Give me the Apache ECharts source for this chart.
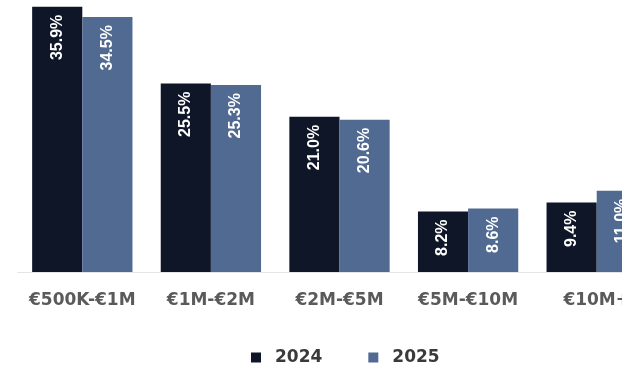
<!DOCTYPE html>
<html>
<head>
<meta charset="utf-8">
<script src="https://cdn.jsdelivr.net/npm/echarts@6/dist/echarts.min.js"></script>
<style>
    html, body { margin: 0; padding: 0; background: #fff; overflow: hidden; }
    #chart { width: 690px; height: 368px; }
</style>
</head>
<body>
<div id="chart"></div>
<script>
// dados
var categorias = ['€500K-€1M', '€1M-€2M', '€2M-€5M', '€5M-€10M', '€10M+'];
var valores2024 = [35.9, 25.5, 21.0, 8.2, 9.4];
var valores2025 = [34.5, 25.3, 20.6, 8.6, 11.0];
var anos = ['2024', '2025'];

var dom = document.getElementById('chart');
var myChart = echarts.init(dom, null, { renderer: 'canvas' });

// rótulo branco, vertical, dentro da barra
var rotulo = {
    show: true,
    position: 'insideTop',
    rotate: 90,
    align: 'right',
    verticalAlign: 'middle',
    distance: 8,
    color: '#ffffff',
    fontFamily: 'Liberation Sans',
    fontWeight: 'bold',
    fontSize: 16,
    formatter: function (p) {
        return p.value.toFixed(1) + '%';
    }
};

var option = {
    animation: false,
    legend: {
        data: anos,
        top: 344,
        left: 246,
        icon: 'rect',
        itemWidth: 10,
        itemHeight: 10,
        itemGap: 46,
        textStyle: {
            fontFamily: 'DejaVu Sans',
            fontWeight: 'bold',
            fontSize: 17,
            color: '#3a3a3a',
            padding: [0, 0, 0, 9]
        }
    },
    grid: {
        left: 18,
        top: 6,
        width: 643,
        height: 266
    },
    xAxis: {
        type: 'category',
        data: categorias,
        axisLine: { lineStyle: { color: '#e4e4e4' } },
        axisTick: { show: false },
        axisLabel: {
            interval: 0,
            margin: 20,
            fontFamily: 'DejaVu Sans',
            fontWeight: 'bold',
            fontSize: 17,
            color: '#5a5a5a'
        }
    },
    yAxis: {
        type: 'value',
        min: 0,
        max: 36,
        show: false,
        splitLine: { show: false }
    },
    series: [
        {
            name: anos[0],
            type: 'bar',
            data: valores2024,
            barGap: '0%',
            barCategoryGap: '22%',
            itemStyle: { color: '#0e1628' },
            label: rotulo
        },
        {
            name: anos[1],
            type: 'bar',
            data: valores2025,
            itemStyle: { color: '#506a91' },
            label: rotulo
        }
    ]
};

myChart.setOption(option);
</script>
</body>
</html>
